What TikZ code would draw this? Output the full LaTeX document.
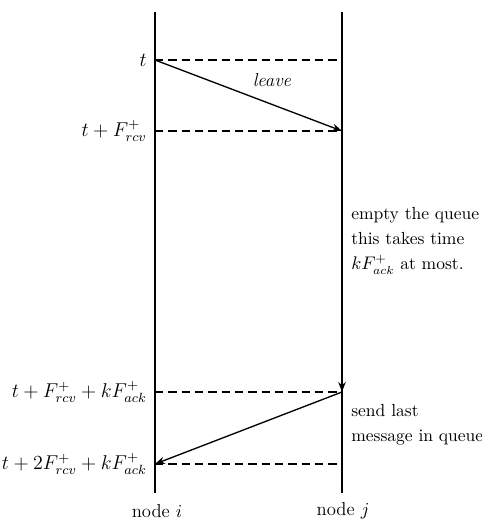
\documentclass[tikz,border=0pt]{standalone}
\usepackage{tikz}
\usetikzlibrary{arrows.meta, positioning, calc}

\begin{document}
\begin{tikzpicture}[x=0.6pt, y=-0.6pt, font=\fontsize{11.2}{15}\selectfont,
    life/.style={line width=1.1pt},
    slot/.style={line width=1pt, dash pattern=on 5pt off 3pt},
    msg/.style={-{Stealth[length=6pt, width=4.5pt]}, line width=0.8pt},
    tlabel/.style={anchor=east, inner sep=0pt, font=\fontsize{11.6}{14}\selectfont},
    note/.style={anchor=west, align=left, inner sep=0pt, font=\fontsize{10.5}{15}\selectfont}]
    \useasboundingbox (0,0) rectangle (482,520);
    % lifelines of the two nodes
    \coordinate (itop) at (155,12);
    \coordinate (ibot) at (155,493);
    \coordinate (jtop) at (342,12);
    \coordinate (jbot) at (342,493);
    \draw[life] (itop) -- (ibot);
    \draw[life] (jtop) -- (jbot);
    \node (ni) at (157,511) {node $i$};
    \node (nj) at (343,511) {node $j$};
    % time marks
    \foreach \n/\y in {a/60, b/131, c/392, d/464}{
      \coordinate (i\n) at (155,\y);
      \coordinate (j\n) at (342,\y);
      \draw[slot] (i\n) -- (j\n);
    }
    \node[tlabel] (ta) at (147,60) {$t$};
    \node[tlabel] (tb) at (147,131) {$t+F^+_{rcv}$};
    \node[tlabel] (tc) at (147,392) {$t+F^+_{rcv}+kF^+_{ack}$};
    \node[tlabel] (td) at (147,464) {$t+2F^+_{rcv}+kF^+_{ack}$};
    % messages
    \draw[msg] (ia) -- (jb);
    \node (lv) at (272,80) {\textit{leave}};
    \draw[msg] (jb) -- (jc);
    \draw[msg] (jc) -- (id);
    % notes
    \node[note] (empty) at (351,241) {empty the queue\\ this takes time\\ $kF^+_{ack}$ at most.};
    \node[note] (send) at (351,425) {send last\\ message in queue};
\end{tikzpicture}
\end{document}
